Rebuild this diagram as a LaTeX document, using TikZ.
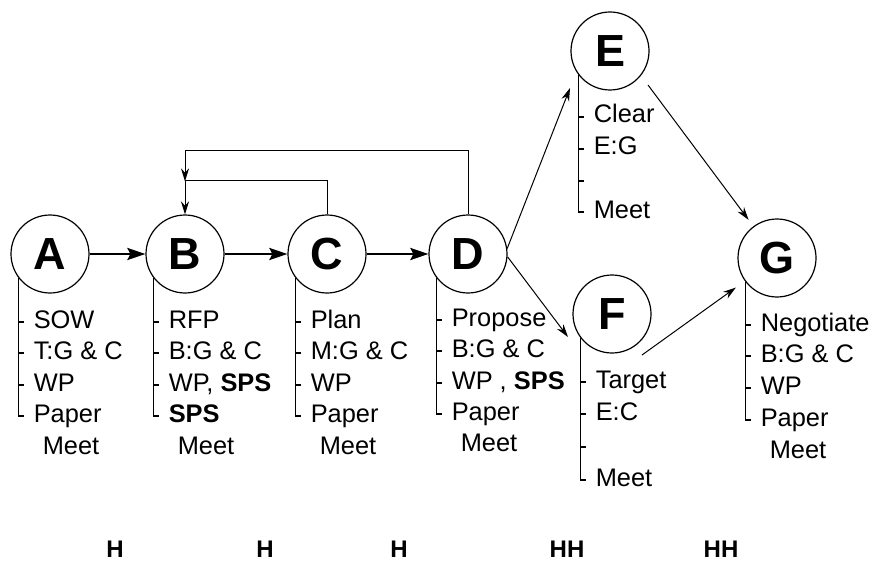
\documentclass[tikz,border=0pt]{standalone}
\usepackage{fontspec}
\setmainfont{Liberation Sans}
\usetikzlibrary{arrows.meta,calc}

\begin{document}
\begin{tikzpicture}[
 x=0.5pt, y=-0.5pt,
 font=\fontsize{12.7}{15}\selectfont,
 stage/.style={draw,circle,line width=0.6pt,minimum size=39pt,inner sep=0pt,font=\fontsize{22.5}{24}\selectfont\bfseries},
 bracket/.style={black,line width=0.55pt},
 item/.style={anchor=base west,inner sep=0pt},
 flow/.style={black,line width=1.3pt,-{Stealth[length=9pt,width=6pt,inset=1.5pt]}},
 branch/.style={black,line width=0.5pt,-{Stealth[length=6.5pt,width=4pt]}},
 feedback/.style={branch},
 effort/.style={font=\fontsize{12}{14}\selectfont\bfseries},
]
\useasboundingbox (0,0) rectangle (876,561);

% Stages
\node[stage] (A) at (50,254) {A};
\node[stage] (B) at (185,254) {B};
\node[stage] (C) at (327,254) {C};
\node[stage] (D) at (468,254) {D};
\node[stage] (E) at (610,51) {E};
\node[stage] (F) at (612,314) {F};
\node[stage] (G) at (777,258) {G};

% Main flow
\foreach \from/\to in {A/B, B/C, C/D}
    \draw[flow] (\from) -- (\to);

% Feedback loops
\coordinate (loop) at ($(B.north) + (0,-33)$);
\draw[feedback] (C.north) -- ++(0,-34) -| (B.north);
\draw[feedback] (D.north) -- ++(0,-64) -| (loop);

% Branches
\coordinate (Ein) at ($(E) + (-40,37)$);
\coordinate (Eout) at ($(E) + (38,34)$);
\coordinate (Fin) at ($(F) + (-44,23)$);
\coordinate (Fout) at ($(F) + (30,41)$);
\draw[branch] (D.8) -- (Ein);
\draw[branch] (D.-4) -- (Fin);
\draw[branch,shorten >=4pt] (Eout) -- (G);
\draw[branch,shorten >=5.5pt] (Fout) -- (G);

% Brackets
\foreach \s/\last in {A/416, B/416, C/416, D/414, E/212, F/480, G/420}
    \draw[bracket] (\s.217) -- (\s.217 |- 0,\last);

% Items
\foreach \s/\y/\txt in {A/322/SOW, A/353/{T:G \& C}, A/385/WP, A/416/Paper,
    B/322/RFP, B/353/{B:G \& C}, B/385/{WP, \textbf{SPS}}, B/416/\textbf{SPS},
    C/322/Plan, C/353/{M:G \& C}, C/385/WP, C/416/Paper,
    D/320/Propose, D/351/{B:G \& C}, D/383/{WP , \textbf{SPS}}, D/414/Paper,
    E/117/Clear, E/149/E:G, E/181/{}, E/212/Meet,
    F/382/Target, F/414/E:C, F/447/{}, F/480/Meet,
    G/325/Negotiate, G/356/{B:G \& C}, G/388/WP, G/420/Paper} {
    \draw[bracket] (\s.217 |- 0,\y) -- ++(6,0);
    \node[item] (\s-\y) at ($(\s.217 |- 0,\y) + (15,6)$) {\txt};
}

\foreach \s/\y in {A/448, B/448, C/448, D/445, G/452}
    \node[item] (\s-meet) at ($(\s.217 |- 0,\y) + (24,6)$) {Meet};

% Effort
\foreach \i/\x/\txt in {1/115/H, 2/265/H, 3/399/H, 4/567/HH, 5/721/HH}
    \node[effort] (effort\i) at (\x,549) {\txt};

\end{tikzpicture}
\end{document}
